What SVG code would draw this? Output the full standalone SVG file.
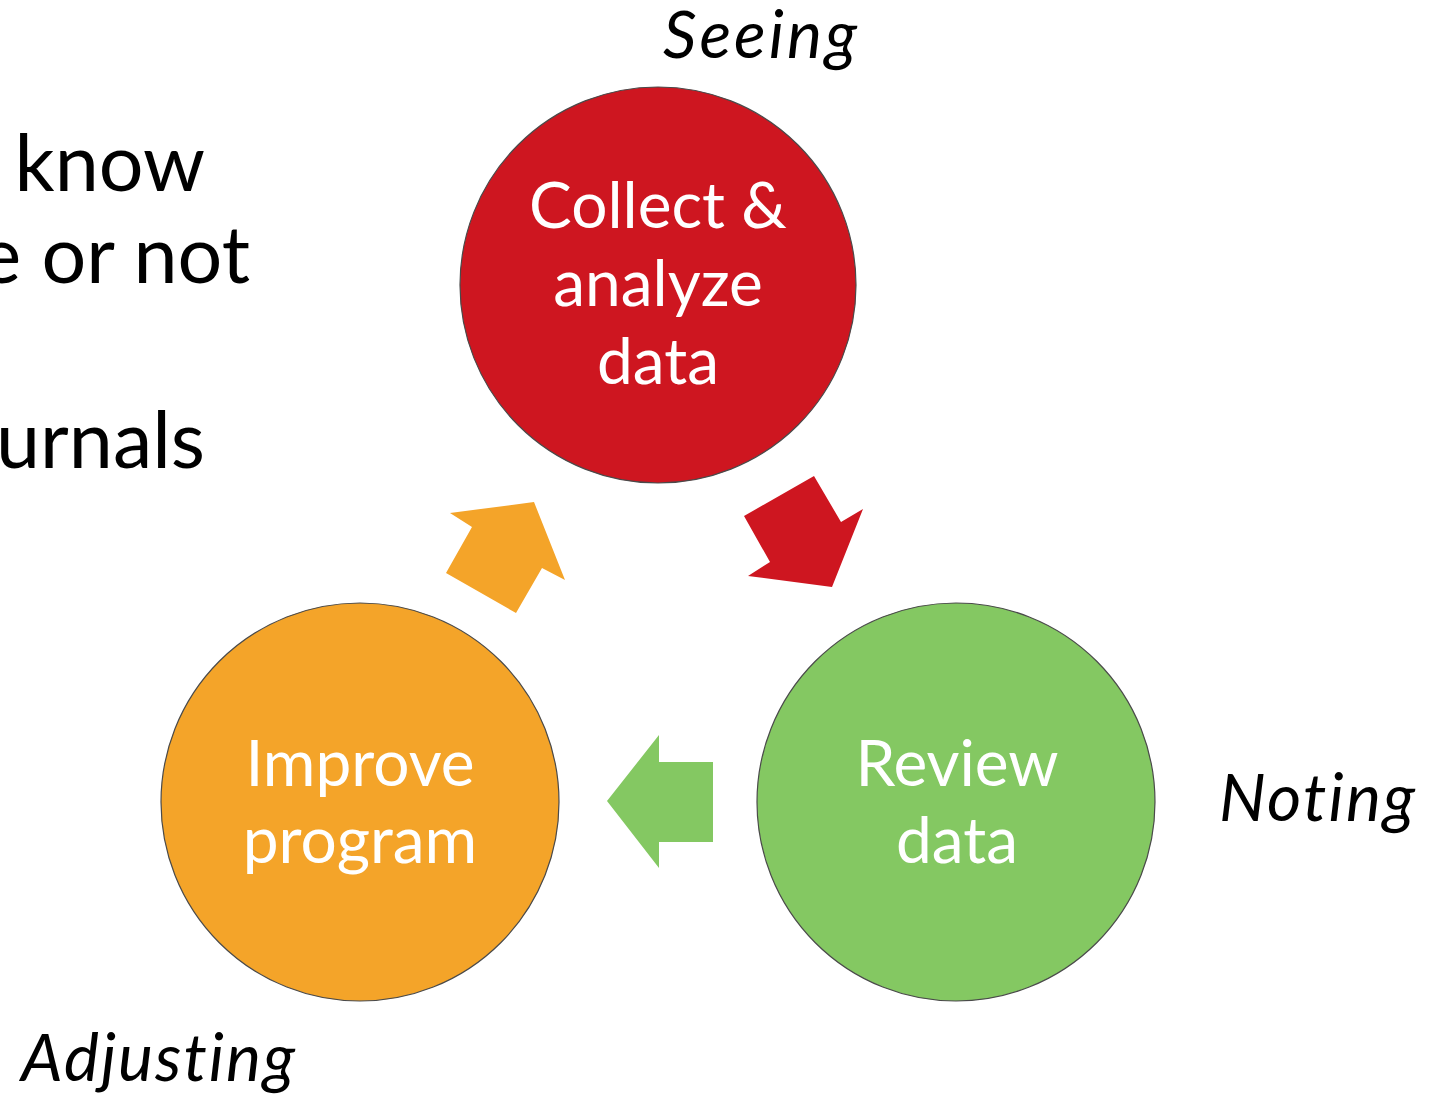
<svg xmlns="http://www.w3.org/2000/svg" width="1432" height="1096" viewBox="0 0 1432 1096">
<style>
.bg{fill:#ffffff}
.node{stroke:#4a4a4a;stroke-width:1.2}
.ntext{font-family:Lato,"Liberation Sans",sans-serif;font-size:64px;fill:#ffffff;text-anchor:middle}
.label{font-family:Lato,"Liberation Sans",sans-serif;font-style:italic;font-size:66px;fill:#000000;text-anchor:middle;font-variant-ligatures:none}
.side{font-family:Lato,"Liberation Sans",sans-serif;font-size:79px;fill:#000000;text-anchor:end}
</style>
<rect class="bg" x="0" y="0" width="1432" height="1096"/>
<g id="side-text">
<text class="side" x="205" y="191">know</text>
<text class="side" x="250" y="283">e or not</text>
<text class="side" x="205" y="468">urnals</text>
</g>
<g id="connectors">
<polygon id="arrow-red" fill="#CE1620" points="814,476 841,522 863,509 832,587 748,576 770,562 744,516"/>
<polygon id="arrow-green" fill="#84C862" points="607,801 659,735 659,762 713,762 713,842 659,842 659,868"/>
<polygon id="arrow-orange" fill="#F4A429" points="534,502 565,580 542,568 516,613 446,573 472,527 450,513"/>
</g>
<g id="node-collect">
<circle class="node" cx="658" cy="285" r="198" fill="#CE1620"/>
<text class="ntext" x="658" y="228">Collect &amp;</text>
<text class="ntext" x="658" y="306">analyze</text>
<text class="ntext" x="658" y="384">data</text>
</g>
<g id="node-review">
<circle class="node" cx="956" cy="802" r="199" fill="#84C862"/>
<text class="ntext" x="957" y="786">Review</text>
<text class="ntext" x="957" y="863">data</text>
</g>
<g id="node-improve">
<circle class="node" cx="360" cy="802" r="199" fill="#F4A429"/>
<text class="ntext" x="360" y="786">Improve</text>
<text class="ntext" x="360" y="863">program</text>
</g>
<g id="labels">
<text class="label" x="760" y="58" textLength="194" lengthAdjust="spacing">Seeing</text>
<text class="label" x="1317" y="821" textLength="196" lengthAdjust="spacing">Noting</text>
<text class="label" x="158" y="1081" textLength="274" lengthAdjust="spacing">Adjusting</text>
</g>
</svg>
